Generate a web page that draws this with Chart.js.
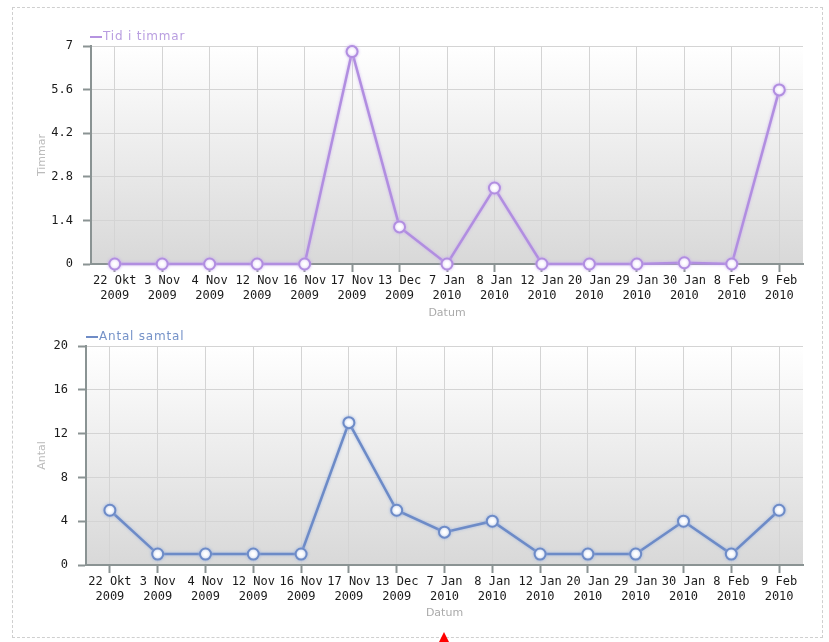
<!DOCTYPE html>
<html><head><meta charset="utf-8">
<script src="https://cdn.jsdelivr.net/npm/chart.js@4/dist/chart.umd.min.js"></script>
<style>
html,body{margin:0;padding:0;background:#fff;width:829px;height:642px;overflow:hidden;position:relative;}
#frame{position:absolute;left:12px;top:7px;width:809px;height:629px;border:1px dashed #cfcfcf;}
.box{position:absolute;left:0;width:829px;height:320px;}
.box canvas{position:absolute;left:0;top:0;}
.lg{position:absolute;font:12px "DejaVu Sans",sans-serif;letter-spacing:0.8px;white-space:nowrap;line-height:14px;}
.lg i{display:inline-block;width:12px;height:2px;vertical-align:middle;margin-right:1px;}
#tri{position:absolute;left:438px;top:632px;width:0;height:0;border-left:6px solid transparent;border-right:6px solid transparent;border-bottom:12px solid #ff0000;}
</style></head>
<body>
<div id="frame"></div>
<div class="box" style="top:0"><canvas id="c1" width="829" height="320"></canvas></div>
<div class="box" style="top:300px"><canvas id="c2" width="829" height="320"></canvas></div>
<div class="lg" style="left:90px;top:29px;color:#b99ee0"><i style="background:#b593e0"></i>Tid i timmar</div>
<div class="lg" style="left:86px;top:329px;color:#7592c8"><i style="background:#6f8cc6"></i>Antal samtal</div>
<div id="tri"></div>
<script>
const categories = ["22 Okt 2009","3 Nov 2009","4 Nov 2009","12 Nov 2009","16 Nov 2009","17 Nov 2009","13 Dec 2009","7 Jan 2010","8 Jan 2010","12 Jan 2010","20 Jan 2010","29 Jan 2010","30 Jan 2010","8 Feb 2010","9 Feb 2010"];
const tidITimmar = [0,0,0,0,0,6.82,1.19,0,2.44,0,0,0,0.04,0,5.59];
const antalSamtal = [5,1,1,1,1,13,5,3,4,1,1,1,4,1,5];
const yTicksTid = [0,1.4,2.8,4.2,5.6,7];
const yTicksAntal = [0,4,8,12,16,20];

function splitLabel(s){const k=s.lastIndexOf(' ');return [s.slice(0,k),s.slice(k+1)];}

const bgPlugin = {id:'bg', beforeDraw(chart){
  const {ctx,chartArea:a}=chart;
  const g=ctx.createLinearGradient(0,a.top,0,a.bottom);
  g.addColorStop(0,'#ffffff'); g.addColorStop(1,'#d8d8d8');
  ctx.save(); ctx.fillStyle=g; ctx.fillRect(a.left,a.top,a.right-a.left,a.bottom-a.top); ctx.restore();
}};
const glowPlugin = {id:'glow',
  beforeDatasetsDraw(chart){const c=chart.ctx; c.save(); c.shadowColor=chart.options.glowColor||'rgba(0,0,0,0)'; c.shadowBlur=3;},
  afterDatasetsDraw(chart){chart.ctx.restore();}
};

function makeChart(id, values, color, glow, yTicks, yTitle, axisLeft, xAxisH){
  const axisCol='#8a9393';
  return new Chart(document.getElementById(id), {
    type:'line',
    data:{labels:categories, datasets:[{data:values, borderColor:color, borderWidth:2.5,
      pointRadius:5.5, pointBorderWidth:2, pointBackgroundColor:'#ffffff', pointBorderColor:color,
      tension:0, clip:false, fill:false}]},
    options:{
      responsive:false, animation:false, devicePixelRatio:1, glowColor:glow,
      layout:{padding:{top:46,right:26,left:0,bottom:0}},
      plugins:{legend:{display:false},tooltip:{enabled:false}},
      scales:{
        x:{type:'category', offset:true,
          grid:{offset:false,color:'#d4d4d4',lineWidth:1,tickLength:8,tickColor:axisCol,tickWidth:2,drawTicks:true},
          border:{color:axisCol,width:2},
          ticks:{autoSkip:false,maxRotation:0,minRotation:0,padding:2,color:'#1a1a1a',
            font:{family:'DejaVu Sans Mono',size:12}, callback:(v,i)=>splitLabel(categories[i])},
          title:{display:true,text:'Datum',color:'#aaaaaa',font:{family:'DejaVu Sans',size:11},padding:{top:0,bottom:0}},
          afterFit:(s)=>{s.height=xAxisH;}
        },
        y:{min:yTicks[0],max:yTicks[yTicks.length-1],
          afterBuildTicks:(s)=>{s.ticks=yTicks.map(v=>({value:v}));},
          grid:{color:'#d4d4d4',lineWidth:1,tickLength:8,tickColor:axisCol,tickWidth:2,drawTicks:true},
          border:{color:axisCol,width:2},
          ticks:{padding:10,color:'#1a1a1a',font:{family:'DejaVu Sans Mono',size:12}},
          title:{display:true,text:yTitle,color:'#bbbbbb',font:{family:'DejaVu Sans',size:11},padding:{top:36,bottom:0}},
          afterFit:(s)=>{s.width=axisLeft;}
        }
      }
    },
    plugins:[bgPlugin, glowPlugin]
  });
}
makeChart('c1', tidITimmar, '#b18ee0', 'rgba(200,170,240,0.8)', yTicksTid, 'Timmar', 91, 56);
makeChart('c2', antalSamtal, '#6d8bc7', 'rgba(150,175,225,0.8)', yTicksAntal, 'Antal', 86, 55);
</script>
</body></html>
